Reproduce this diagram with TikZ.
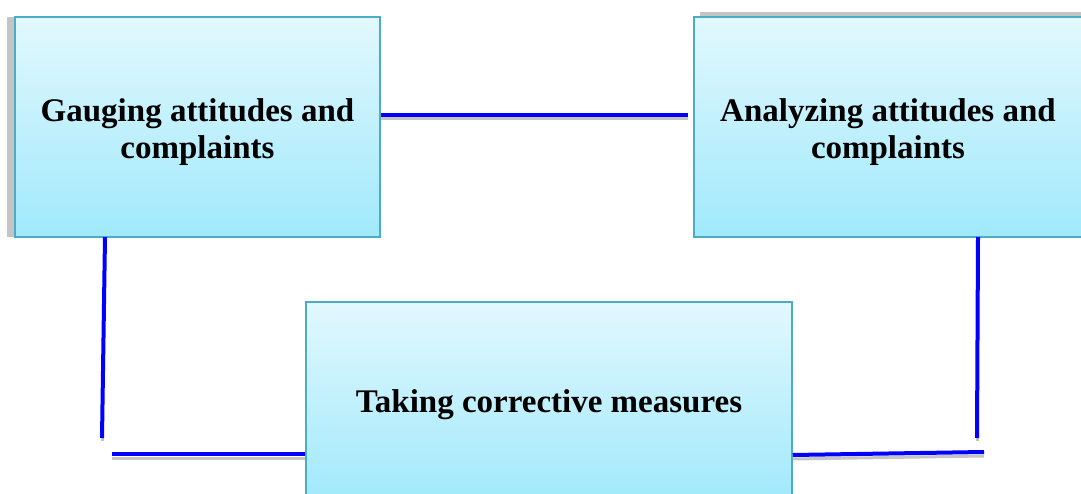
\documentclass[tikz,border=0pt]{standalone}
\usepackage{fontspec}
\setmainfont{Liberation Serif}
\definecolor{boxborder}{HTML}{4BACC6}
\definecolor{boxtop}{HTML}{E2F8FD}
\definecolor{boxbot}{HTML}{A0E9FC}
\definecolor{shadowgray}{HTML}{C4C4C4}
\newcommand{\twolines}[2]{\begin{tabular}[t]{@{}c@{}}#1\\#2\end{tabular}}
\begin{document}
\begin{tikzpicture}[x=1pt,y=-1pt,
  box/.style={draw=boxborder, line width=1.5pt, top color=boxtop, bottom color=boxbot,
    font=\bfseries\fontsize{33}{37}\selectfont, inner sep=0pt},
  conn/.style={draw=blue, line width=4pt},
  connshadow/.style={draw=shadowgray, line width=3pt}]
\useasboundingbox (0,0) rectangle (1081,494);
\clip (0,0) rectangle (1081,494);
% box shadows
\fill[shadowgray] (7,17) rectangle (15,237);
\fill[shadowgray] (700,12) rectangle (1081,17);
% boxes
\node[box, minimum width=365pt, minimum height=220pt, text height=20pt, text depth=30pt] (A) at (197.5,127) {\twolines{Gauging attitudes and}{complaints}};
\node[box, minimum width=388pt, minimum height=220pt, text height=20pt, text depth=30pt] (B) at (888,127) {\twolines{Analyzing attitudes and}{complaints}};
\node[box, minimum width=486pt, minimum height=200pt, text height=20pt, text depth=0pt] (C) at (549,402) {Taking corrective measures};
% connector end points
\coordinate (tA) at (A.east |- 0,115);
\coordinate (tB) at (688,115);
\coordinate (lA) at (105,237);
\coordinate (lE) at (102,438);
\coordinate (bL) at (112,454);
\coordinate (bC) at (C.west |- 0,454);
\coordinate (rB) at (978,237);
\coordinate (rE) at (977,438);
\coordinate (bC2) at (C.east |- 0,455);
\coordinate (bR) at (984,452);
% shadows of connectors
\draw[connshadow] ([yshift=-4pt]tA) -- ([yshift=-4pt]tB);
\draw[connshadow] ([yshift=-4pt]bL) -- ([yshift=-4pt]bC);
\draw[connshadow] ([yshift=-4pt]bC2) -- ([yshift=-4pt]bR);
\draw[connshadow] (lE) -- ([yshift=-3pt]lE);
\draw[connshadow] (rE) -- ([yshift=-3pt]rE);
% connectors
\draw[conn] (tA) -- (tB);
\draw[conn] (lA) -- (lE);
\draw[conn] (bL) -- (bC);
\draw[conn] (rB) -- (rE);
\draw[conn] (bC2) -- (bR);
\end{tikzpicture}
\end{document}
